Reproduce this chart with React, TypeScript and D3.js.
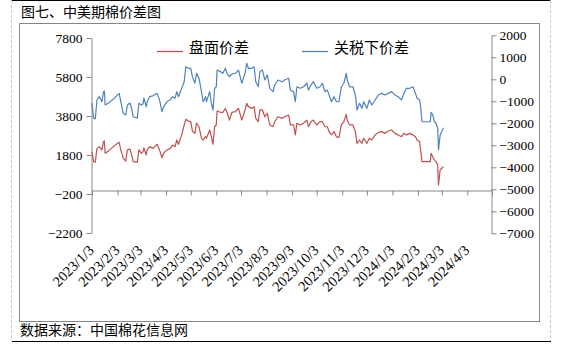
import * as d3 from 'd3';
import React, { useEffect, useRef } from 'react';

// trading dates
const dates = [
  '2023-01-03', '2023-01-05', '2023-01-07', '2023-01-09', '2023-01-12', '2023-01-15', '2023-01-17', '2023-01-18', '2023-01-19', '2023-01-23',
  '2023-01-29', '2023-02-03', '2023-02-05', '2023-02-07', '2023-02-10', '2023-02-13', '2023-02-15', '2023-02-18', '2023-02-20', '2023-02-22',
  '2023-02-27', '2023-03-01', '2023-03-04', '2023-03-06', '2023-03-07', '2023-03-10', '2023-03-11', '2023-03-14', '2023-03-18', '2023-03-23',
  '2023-03-26', '2023-03-29', '2023-03-31', '2023-04-04', '2023-04-08', '2023-04-11', '2023-04-14', '2023-04-16', '2023-04-18', '2023-04-22',
  '2023-04-25', '2023-04-27', '2023-04-30', '2023-05-03', '2023-05-05', '2023-05-08', '2023-05-10', '2023-05-13', '2023-05-16', '2023-05-18',
  '2023-05-21', '2023-05-22', '2023-05-26', '2023-05-28', '2023-05-30', '2023-06-01', '2023-06-03', '2023-06-04', '2023-06-08', '2023-06-11',
  '2023-06-14', '2023-06-16', '2023-06-19', '2023-06-22', '2023-06-26', '2023-06-30', '2023-07-04', '2023-07-08', '2023-07-10', '2023-07-12',
  '2023-07-16', '2023-07-19', '2023-07-21', '2023-07-24', '2023-07-26', '2023-07-29', '2023-08-01', '2023-08-04', '2023-08-07', '2023-08-11',
  '2023-08-13', '2023-08-17', '2023-08-22', '2023-08-25', '2023-08-30', '2023-09-01', '2023-09-05', '2023-09-07', '2023-09-09', '2023-09-13',
  '2023-09-17', '2023-09-21', '2023-09-23', '2023-09-26', '2023-09-29', '2023-10-03', '2023-10-07', '2023-10-10', '2023-10-13', '2023-10-16',
  '2023-10-18', '2023-10-21', '2023-10-24', '2023-10-27', '2023-10-30', '2023-11-02', '2023-11-05', '2023-11-08', '2023-11-09', '2023-11-12',
  '2023-11-16', '2023-11-19', '2023-11-21', '2023-11-24', '2023-11-27', '2023-11-29', '2023-12-03', '2023-12-06', '2023-12-09', '2023-12-13',
  '2023-12-17', '2023-12-21', '2023-12-25', '2023-12-29', '2024-01-02', '2024-01-06', '2024-01-10', '2024-01-14', '2024-01-17', '2024-01-20',
  '2024-01-24', '2024-01-28', '2024-01-31', '2024-02-02', '2024-02-05', '2024-02-06', '2024-02-08', '2024-02-18', '2024-02-19', '2024-02-21',
  '2024-02-23', '2024-02-25', '2024-02-27', '2024-02-28', '2024-03-01', '2024-03-03', '2024-03-05',
];

// 盘面价差 (left axis)
const panmian = [
  1970, 1460, 1430, 2140, 2230, 2060, 2480, 2520, 1890, 2010,
  2230, 2400, 2450, 2060, 1630, 1490, 2060, 2110, 1840, 1460,
  1430, 2060, 1890, 1970, 2170, 1800, 2060, 2230, 2140, 2350,
  2060, 1660, 1890, 2060, 2140, 2310, 2230, 2570, 2350, 2830,
  3340, 3630, 3540, 3510, 3030, 2910, 3430, 3250, 2660, 2570,
  2740, 2660, 3080, 2740, 2350, 3250, 3340, 4060, 3990, 3990,
  4190, 3990, 3590, 3990, 4020, 4190, 3590, 4110, 4450, 4280,
  4190, 4280, 3680, 3510, 4110, 4110, 3760, 3940, 3340, 3250,
  3510, 3760, 3680, 3760, 3850, 3340, 3340, 2830, 3430, 3340,
  3430, 3590, 3250, 3510, 3590, 3340, 3510, 3510, 3250, 3250,
  3000, 2830, 3000, 2740, 2690, 3340, 3510, 3890, 3590, 3340,
  3340, 3000, 2400, 2570, 2400, 2660, 2400, 2660, 2570, 2830,
  2960, 3000, 2910, 3030, 3080, 2910, 2830, 2740, 2910, 2830,
  2910, 2830, 2740, 2570, 2480, 2140, 1460, 1460, 1890, 1710,
  1540, 1460, 1290, 260, 1030, 1120, 1200,
];

// 关税下价差 (right axis)
const guanshui = [
  -1090, -1770, -1800, -940, -790, -1020, -560, -530, -1170, -1080,
  -900, -710, -640, -1020, -1550, -1620, -1170, -1080, -1300, -1700,
  -1770, -1090, -1170, -1120, -850, -1250, -1020, -790, -750, -640,
  -940, -1470, -1250, -1020, -940, -790, -860, -560, -790, -410,
  -110, 570, 500, 500, 120, -180, 270, 50, -560, -1020,
  -790, -1020, -560, -1090, -1400, -410, -340, 420, 350, 270,
  500, 270, 120, 240, 270, 420, -180, 270, 730, 500,
  500, 570, -110, -340, 350, 420, -30, 200, -410, -560,
  -260, -30, -110, -30, 50, -490, -560, -1020, -340, -410,
  -340, -180, -490, -260, -110, -410, -340, -180, -560, -490,
  -710, -1020, -790, -1020, -1020, -340, -180, 270, -30, -340,
  -340, -710, -1400, -1090, -1320, -1020, -1320, -940, -1170, -940,
  -710, -640, -710, -640, -560, -710, -790, -940, -640, -410,
  -410, -340, -640, -860, -940, -1170, -1930, -1930, -1500, -1620,
  -1930, -2000, -2230, -3210, -2530, -2380, -2200,
];

const xTickLabels = [
  '2023/1/3', '2023/2/3', '2023/3/3', '2023/4/3', '2023/5/3', '2023/6/3', '2023/7/3', '2023/8/3',
  '2023/9/3', '2023/10/3', '2023/11/3', '2023/12/3', '2024/1/3', '2024/2/3', '2024/3/3', '2024/4/3',
];
const leftTicks = [7800, 5800, 3800, 1800, -200, -2200];
const rightTicks = [2000, 1000, 0, -1000, -2000, -3000, -4000, -5000, -6000, -7000];

const RED = '#C0504D';
const BLUE = '#4F81BD';
const AXIS = '#868686';
const SERIF = '"Liberation Serif", "Times New Roman", serif';
const CJK = '"Noto Sans CJK SC", sans-serif';

const App: React.FC = () => {
  const svgRef = useRef<SVGSVGElement>(null);

  useEffect(() => {
    if (!svgRef.current) return;
    const svg = d3.select(svgRef.current);
    svg.selectAll('*').remove();

    const width = 561;
    const height = 352;
    svg.attr('width', width).attr('height', height);

    const parse = d3.timeParse('%Y-%m-%d');
    const parseTick = d3.timeParse('%Y/%m/%d');
    const fmt = d3.format('d');

    const x = d3.scaleTime()
      .domain([parse('2023-01-03') as Date, parse('2024-05-03') as Date])
      .range([92, 492]);
    const yL = d3.scaleLinear().domain([-2200, 7800]).range([233, 38]);
    const yR = d3.scaleLinear().domain([-7000, 2000]).range([233.3, 35.3]);

    // page borders
    svg.append('line').attr('x1', 12).attr('x2', 551).attr('y1', 0.5).attr('y2', 0.5)
      .attr('stroke', '#000');
    svg.append('line').attr('x1', 12).attr('x2', 551).attr('y1', 341.5).attr('y2', 341.5)
      .attr('stroke', '#000');
    [11.5, 550.5].forEach(xx => {
      svg.append('line').attr('x1', xx).attr('x2', xx).attr('y1', 0).attr('y2', 341)
        .attr('stroke', '#c8c8c8').attr('stroke-dasharray', '3,2');
    });

    // chart frame
    svg.append('rect')
      .attr('x', 19.5).attr('y', 23.5).attr('width', 520).attr('height', 298)
      .attr('fill', 'none').attr('stroke', AXIS);

    // title + source
    svg.append('text').attr('x', 21).attr('y', 17)
      .style('font-family', CJK).style('font-size', '14px').attr('fill', '#000')
      .text('图七、中美期棉价差图');
    svg.append('text').attr('x', 20).attr('y', 335)
      .style('font-family', CJK).style('font-size', '14px').attr('fill', '#000')
      .text('数据来源：中国棉花信息网');

    const styleAxis = (g: d3.Selection<SVGGElement, unknown, null, undefined>) => {
      g.select('.domain').attr('stroke', AXIS);
      g.selectAll('.tick line').attr('stroke', AXIS);
      g.selectAll('.tick text')
        .attr('fill', '#000')
        .style('font-family', SERIF)
        .style('font-size', '13.5px');
    };

    // left axis
    svg.append('g')
      .attr('transform', 'translate(91.5,0)')
      .call(d3.axisLeft(yL).tickValues(leftTicks).tickSize(5).tickSizeOuter(0).tickPadding(4).tickFormat(d => fmt(d as number)))
      .call(styleAxis);

    // right axis
    svg.append('g')
      .attr('transform', 'translate(491.5,0)')
      .call(d3.axisRight(yR).tickValues(rightTicks).tickSize(5).tickSizeOuter(0).tickPadding(3).tickFormat(d => fmt(d as number)))
      .call(styleAxis);

    // bottom axis (crosses at -5000 on the right scale)
    const tickDates = xTickLabels.map(t => parseTick(t) as Date);
    const axisY = Math.ceil(yR(-5000)) + 0.5;
    const xTicksAll = [...tickDates, x.domain()[1]];
    svg.append('g')
      .attr('transform', `translate(0,${axisY})`)
      .call(d3.axisBottom(x).tickValues(xTicksAll).tickSize(5).tickSizeOuter(0).tickFormat(() => ''))
      .call(styleAxis);

    // rotated date labels, placed low
    svg.append('g')
      .selectAll('text')
      .data(tickDates)
      .enter()
      .append('text')
      .attr('transform', d => `translate(${x(d) + 3},251) rotate(-45)`)
      .attr('text-anchor', 'end')
      .style('font-family', SERIF)
      .style('font-size', '14.5px')
      .attr('fill', '#000')
      .text((_, i) => xTickLabels[i]);

    // series
    const pts = dates.map(d => parse(d) as Date);
    const lineL = d3.line<number>().x((_, i) => x(pts[i])).y(v => yL(v));
    const lineR = d3.line<number>().x((_, i) => x(pts[i])).y(v => yR(v));

    svg.append('path').datum(panmian)
      .attr('d', lineL).attr('fill', 'none').attr('stroke', RED)
      .attr('stroke-width', 1.2).attr('stroke-linejoin', 'round');
    svg.append('path').datum(guanshui)
      .attr('d', lineR).attr('fill', 'none').attr('stroke', BLUE)
      .attr('stroke-width', 1.2).attr('stroke-linejoin', 'round');

    // legend
    const legend = [
      { name: '盘面价差', color: RED, x: 157 },
      { name: '关税下价差', color: BLUE, x: 302 },
    ];
    const lg = svg.append('g');
    legend.forEach(item => {
      lg.append('line')
        .attr('x1', item.x).attr('x2', item.x + 26)
        .attr('y1', 51.5).attr('y2', 51.5)
        .attr('stroke', item.color).attr('stroke-width', 1.3);
      lg.append('text')
        .attr('x', item.x + 32).attr('y', 53)
        .style('font-family', CJK).style('font-size', '15px')
        .attr('fill', '#000')
        .text(item.name);
    });
  }, []);

  return (
    <div style={{ position: 'absolute', left: 0, top: 0 }}>
      <svg ref={svgRef} />
    </div>
  );
};

export default App;
